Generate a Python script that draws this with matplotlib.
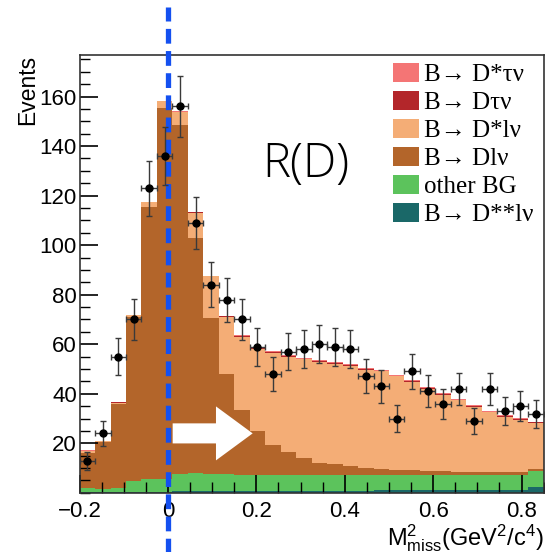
import numpy as np
import matplotlib
matplotlib.use("Agg")
import matplotlib.pyplot as plt
from matplotlib.ticker import MultipleLocator
from matplotlib.font_manager import FontProperties


# =========================================================
# DATOS
# =========================================================

# 30 bins de -0.2 a 0.85 (ancho 0.035)
bin_edges = np.linspace(-0.2, 0.85, 31)

data_counts = [13, 24, 55, 70, 123, 136, 156, 109, 84, 78,
               70, 59, 48, 57, 58, 60, 59, 58, 47, 43,
               30, 49, 41, 36, 42, 29, 42, 33, 35, 32]

# componentes del stack (abajo -> arriba)
dss_lnu = [0.2, 0.2, 0.2, 0.2, 0.2, 0.2, 0.6, 0.6, 0.6, 0.6,
           0.6, 0.6, 0.6, 0.6, 0.6, 0.6, 0.6, 0.6, 0.6, 1.0,
           1.0, 1.0, 1.0, 1.0, 1.0, 1.0, 1.0, 1.0, 1.0, 2.3]

other_bg = [1.9, 1.2, 1.9, 4.4, 5.2, 5.4, 6.9, 7.3, 7.1, 6.9,
            6.7, 6.6, 6.6, 6.6, 6.6, 6.6, 6.6, 6.6, 6.6, 6.3,
            6.3, 6.3, 6.3, 6.3, 6.3, 6.3, 6.3, 6.3, 6.3, 6.7]

d_lnu = [14.1, 19.0, 33.7, 66.2, 109.9, 149.7, 141.1, 94.9, 62.8, 40.4,
         26.2, 17.6, 12.2, 9.2, 6.7, 5.0, 4.3, 3.6, 3.0, 2.5,
         2.1, 1.8, 1.6, 1.4, 1.3, 1.2, 1.2, 1.2, 1.3, 0.8]

ds_lnu = [0.7, 0.5, 0.6, 0.9, 2.1, 2.9, 5.2, 10.3, 17.0, 23.0,
          29.6, 33.3, 37.0, 38.6, 40.0, 40.8, 40.7, 40.5, 39.5, 39.2,
          37.6, 35.8, 33.1, 30.9, 28.7, 26.3, 24.0, 22.3, 20.9, 18.3]

d_taunu = [0.1, 0.1, 0.1, 0.1, 0.1, 0.1, 0.1, 0.1, 0.1, 0.3,
           0.3, 0.3, 0.3, 0.3, 0.3, 0.3, 0.3, 0.3, 0.3, 0.3,
           0.3, 0.3, 0.3, 0.3, 0.3, 0.3, 0.3, 0.3, 0.3, 0.3]

ds_taunu = [0.1, 0.1, 0.1, 0.1, 0.1, 0.1, 0.1, 0.1, 0.1, 0.4,
            0.4, 0.4, 0.4, 0.4, 0.4, 0.4, 0.4, 0.4, 0.4, 0.4,
            0.4, 0.4, 0.4, 0.4, 0.4, 0.4, 0.4, 0.4, 0.4, 0.4]

componentes = [
    ("B\u2192 D**l\u03bd", dss_lnu, "#1a6868"),
    ("other BG", other_bg, "#5cc35c"),
    ("B\u2192 Dl\u03bd", d_lnu, "#b3652a"),
    ("B\u2192 D*l\u03bd", ds_lnu, "#f4ad76"),
    ("B\u2192 D\u03c4\u03bd", d_taunu, "#b3262a"),
    ("B\u2192 D*\u03c4\u03bd", ds_taunu, "#f47575"),
]


# =========================================================
# FIGURA
# =========================================================

plt.rcParams["font.family"] = ["Liberation Sans", "DejaVu Sans"]
plt.rcParams["mathtext.fontset"] = "custom"
plt.rcParams["mathtext.rm"] = "Liberation Sans"
plt.rcParams["mathtext.it"] = "Liberation Sans:italic"
plt.rcParams["mathtext.default"] = "rm"

fig = plt.figure(figsize=(5.45, 5.52), dpi=100)
ax = fig.add_axes([0.146, 0.1072, 0.8516, 0.7932])

widths = np.diff(bin_edges)
centers = bin_edges[:-1] + widths / 2

bottom = np.zeros(len(centers))
handles = {}

for label, values, color in componentes:

    values = np.array(values)

    b = ax.bar(
        bin_edges[:-1],
        values,
        width=widths,
        bottom=bottom,
        align="edge",
        color=color,
        linewidth=0,
        zorder=1
    )

    handles[label] = b
    bottom = bottom + values

# datos con errores
counts = np.array(data_counts)

ax.errorbar(
    centers,
    counts,
    xerr=widths / 2,
    yerr=np.sqrt(counts),
    fmt="o",
    color="black",
    ecolor="#3a3a3a",
    markersize=5,
    elinewidth=1.0,
    capsize=2.5,
    capthick=1.0,
    zorder=5
)

# flecha blanca
ax.arrow(
    0.0106, 24.0, 0.181, 0,
    width=8.1,
    head_width=21.8,
    head_length=0.083,
    length_includes_head=True,
    fc="white",
    ec="none",
    zorder=3
)

# linea azul en 0
ax.axvline(
    0,
    ymin=-0.14,
    ymax=1.11,
    color="#1450f0",
    linewidth=3.8,
    linestyle=(0, (2.8, 1.4)),
    clip_on=False,
    zorder=4
)

ax.text(
    0.312, 132.4, "R(D)",
    fontsize=34,
    family=["Open Sans", "DejaVu Sans"],
    fontweight="light",
    ha="center",
    va="center",
    zorder=6
)


# =========================================================
# EJES
# =========================================================

ax.set_xlim(-0.2, 0.85)
ax.set_ylim(0, 176.8)

ax.set_yticks(np.arange(20, 161, 20))
ax.yaxis.set_minor_locator(MultipleLocator(5))
ax.set_xticks([-0.2, 0, 0.2, 0.4, 0.6, 0.8])
ax.set_xticklabels(["\u22120.2", "0", "0.2", "0.4", "0.6", "0.8"])
ax.xaxis.set_minor_locator(MultipleLocator(0.05))

ax.tick_params(axis="both", which="both", direction="in",
               top=False, right=False, labelsize=16, colors="black")
ax.tick_params(axis="y", which="major", length=13, width=1.2, pad=2)
ax.tick_params(axis="y", which="minor", length=7, width=1.0)
ax.tick_params(axis="x", which="major", length=13, width=1.2, pad=6)
ax.tick_params(axis="x", which="minor", length=8, width=1.0)

for s in ax.spines.values():
    s.set_linewidth(1.2)
    s.set_color("#333333")

ax.set_ylabel("Events", fontsize=16.5)
ax.yaxis.set_label_coords(-0.088, 1.0)
ax.yaxis.label.set_horizontalalignment("right")

ax.set_xlabel(r"M$^{2}_{\rm miss}$(GeV$^{2}$/c$^{4}$)", fontsize=17)
ax.xaxis.set_label_coords(1.0, -0.068)
ax.xaxis.label.set_horizontalalignment("right")

orden = ["B\u2192 D*\u03c4\u03bd", "B\u2192 D\u03c4\u03bd", "B\u2192 D*l\u03bd",
         "B\u2192 Dl\u03bd", "other BG", "B\u2192 D**l\u03bd"]

ax.legend(
    [handles[k] for k in orden],
    orden,
    loc="upper left",
    bbox_to_anchor=(0.6756, 0.982),
    frameon=False,
    prop=FontProperties(family=["Liberation Serif", "DejaVu Serif"], size=18),
    borderpad=0,
    borderaxespad=0,
    handlelength=1.05,
    handleheight=0.78,
    handletextpad=0.2,
    labelspacing=0.2
)

fig.savefig("out.png", dpi=100)
